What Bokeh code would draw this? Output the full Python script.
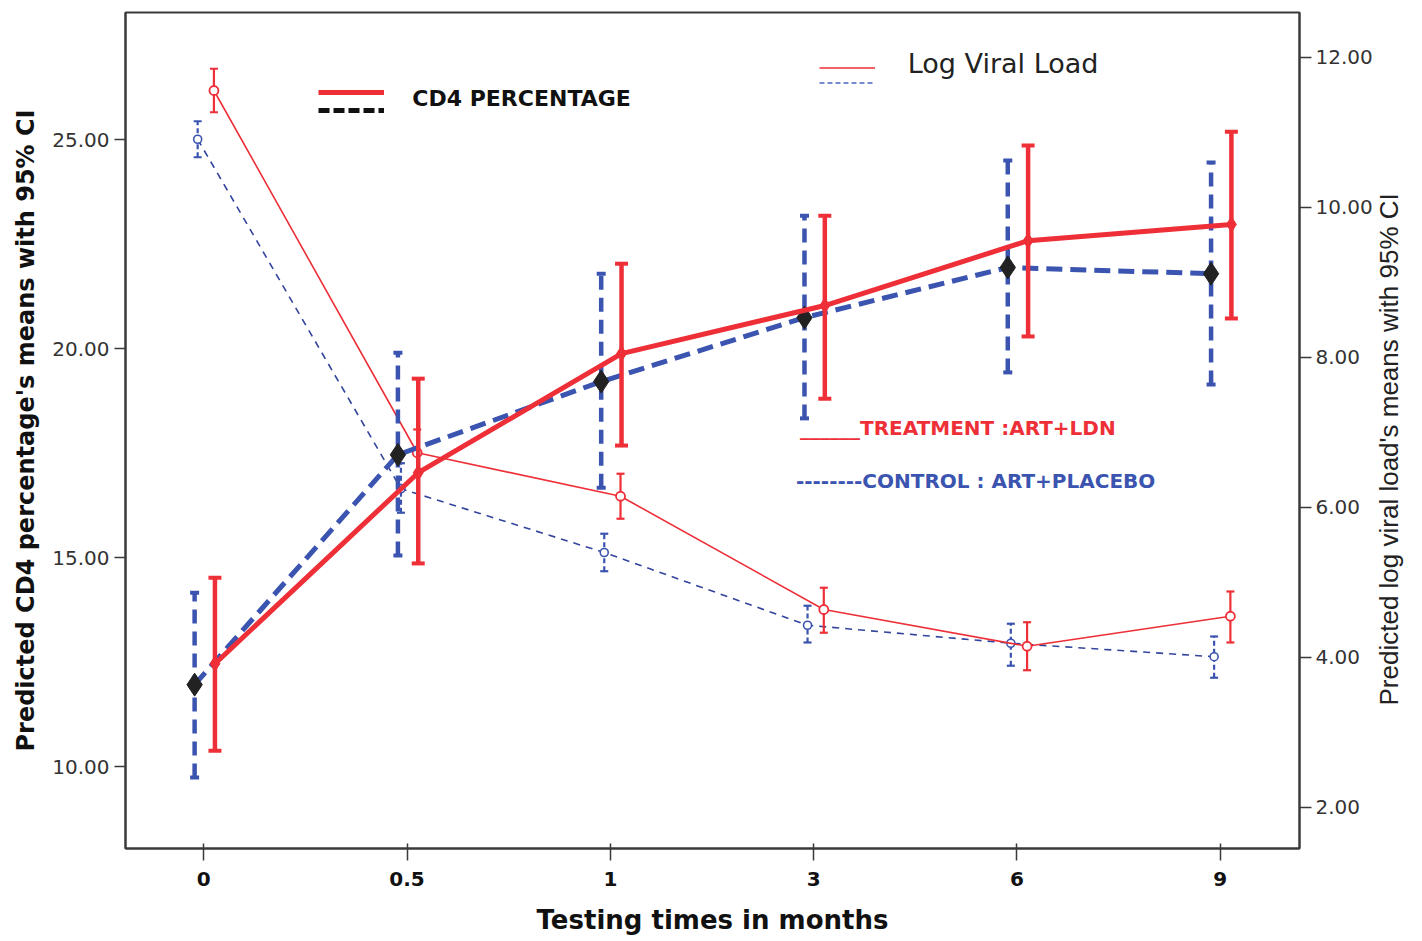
import math
import numpy as np
from bokeh.plotting import figure
from bokeh.models import (LinearAxis, Range1d, FixedTicker, NumeralTickFormatter,
                          Legend, LegendItem, Label)
from bokeh.embed import file_html
from bokeh.resources import INLINE

# ---------------- data ----------------
categories = ["0", "0.5", "1", "3", "6", "9"]

cd4_ctrl = [11.96, 17.46, 19.21, 20.74, 21.94, 21.79]
cd4_ctrl_lo = [9.74, 15.05, 16.67, 18.33, 19.43, 19.14]
cd4_ctrl_hi = [14.16, 19.90, 21.79, 23.18, 24.50, 24.45]

cd4_trt = [12.46, 17.03, 19.88, 21.03, 22.58, 22.97]
cd4_trt_lo = [10.38, 14.86, 17.68, 18.80, 20.29, 20.72]
cd4_trt_hi = [14.52, 19.28, 22.03, 23.18, 24.86, 25.19]

vl_trt = [11.56, 6.73, 6.15, 4.64, 4.15, 4.55]
vl_trt_lo = [11.27, 6.42, 5.85, 4.33, 3.83, 4.20]
vl_trt_hi = [11.85, 7.04, 6.45, 4.93, 4.47, 4.88]

vl_ctrl = [10.91, 6.25, 5.40, 4.43, 4.19, 4.01]
vl_ctrl_lo = [10.67, 5.93, 5.15, 4.20, 3.89, 3.73]
vl_ctrl_hi = [11.15, 6.59, 5.65, 4.69, 4.45, 4.28]

cd4_ticks = [10, 15, 20, 25]
vl_ticks = [2, 4, 6, 8, 10, 12]

RED = "#ee2f38"
BLUE = "#3a54b0"
NAVY = "#33449c"
AX = "#3a3a3a"

idx = np.arange(len(categories))

p = figure(width=1422, height=941, output_backend="svg", toolbar_location=None,
           x_range=Range1d(-0.385, 5.39), y_range=Range1d(8.04, 28.04),
           min_border_left=125, min_border_right=122, min_border_top=12,
           min_border_bottom=93)
p.extra_y_ranges = {"vl": Range1d(1.453, 12.6)}
p.xgrid.visible = False
p.ygrid.visible = False
p.outline_line_color = AX
p.outline_line_width = 2
p.background_fill_color = "white"
p.border_fill_color = "white"

# ---------------- log viral load (right axis) ----------------
xb = idx - 0.03
xr = idx + 0.05

vl_ctrl_line = p.line(xb, vl_ctrl, y_range_name="vl", line_color=NAVY,
                      line_width=1.6, line_dash="7 6")
p.segment(xb, vl_ctrl_lo, xb, vl_ctrl_hi, y_range_name="vl", line_color=BLUE,
          line_width=2.2, line_dash="5 3")
p.scatter(np.concatenate([xb, xb]), vl_ctrl_lo + vl_ctrl_hi, y_range_name="vl",
          marker="dash", size=8, line_color=BLUE, line_width=2.2)
p.scatter(xb, vl_ctrl, y_range_name="vl", marker="circle", size=8,
          fill_color="white", line_color=BLUE, line_width=1.6)

vl_trt_line = p.line(xr, vl_trt, y_range_name="vl", line_color=RED,
                     line_width=1.6)
p.segment(xr, vl_trt_lo, xr, vl_trt_hi, y_range_name="vl", line_color=RED,
          line_width=2.2)
p.scatter(np.concatenate([xr, xr]), vl_trt_lo + vl_trt_hi, y_range_name="vl",
          marker="dash", size=8, line_color=RED, line_width=2.2)
p.scatter(xr, vl_trt, y_range_name="vl", marker="circle", size=9,
          fill_color="white", line_color=RED, line_width=1.8)

# ---------------- CD4 percentage (left axis) ----------------
xcb = idx - 0.045
xcr = idx + 0.055

cd4_ctrl_line = p.line(xcb, cd4_ctrl, line_color=BLUE, line_width=5,
                       line_dash="16 8")
p.segment(xcb, cd4_ctrl_lo, xcb, cd4_ctrl_hi, line_color=BLUE, line_width=4.5,
          line_dash="14 8")
p.scatter(np.concatenate([xcb, xcb]), cd4_ctrl_lo + cd4_ctrl_hi,
          marker="dash", size=9, line_color=BLUE, line_width=4)
p.scatter(xcb, cd4_ctrl, marker="diamond", size=23, fill_color="#222222",
          line_color="#222222", line_width=1)

cd4_trt_line = p.line(xcr, cd4_trt, line_color=RED, line_width=5)
p.segment(xcr, cd4_trt_lo, xcr, cd4_trt_hi, line_color=RED, line_width=4.5)
p.scatter(np.concatenate([xcr, xcr]), cd4_trt_lo + cd4_trt_hi,
          marker="dash", size=13, line_color=RED, line_width=4)
p.scatter(xcr, cd4_trt, marker="diamond", size=15, fill_color=RED,
          line_color=RED, line_width=1)

# one-point (invisible) renderers used only as legend samples
black_dash = p.line(x=[xcb[0]], y=[cd4_ctrl[0]], line_color="#111111",
                    line_width=5, line_dash="11 4")
blue_dash_small = p.line(x=[xb[0]], y=[vl_ctrl[0]], y_range_name="vl",
                         line_color="#4a66c0", line_width=1.6,
                         line_dash="5 3")

# ---------------- axes ----------------
xa = p.xaxis[0]
xa.ticker = FixedTicker(ticks=list(idx))
xa.major_label_overrides = {int(i): c for i, c in zip(idx, categories)}
xa.minor_tick_line_color = None
xa.major_tick_in = 5
xa.major_tick_out = 12
xa.major_tick_line_color = AX
xa.major_tick_line_width = 1.5
xa.axis_line_color = AX
xa.axis_line_width = 2
xa.major_label_standoff = 11
xa.major_label_text_font = "DejaVu Sans"
xa.major_label_text_font_style = "bold"
xa.major_label_text_font_size = "20px"
xa.major_label_text_color = "#111111"
xa.axis_label = "Testing times in months"
xa.axis_label_text_font = "DejaVu Sans"
xa.axis_label_text_font_style = "bold"
xa.axis_label_text_font_size = "26px"
xa.axis_label_text_color = "#111111"
xa.axis_label_standoff = 16

ya = p.yaxis[0]
ya.ticker = FixedTicker(ticks=cd4_ticks)
ya.formatter = NumeralTickFormatter(format="0.00")
ya.minor_tick_line_color = None
ya.major_tick_in = 0
ya.major_tick_out = 11
ya.major_tick_line_color = AX
ya.major_tick_line_width = 1.5
ya.axis_line_color = AX
ya.axis_line_width = 2
ya.major_label_standoff = 5
ya.major_label_text_font = "DejaVu Sans"
ya.major_label_text_font_size = "20px"
ya.major_label_text_color = "#333333"
ya.axis_label = "Predicted CD4 percentage's means with 95% CI"
ya.axis_label_text_font = "DejaVu Sans"
ya.axis_label_text_font_style = "bold"
ya.axis_label_text_font_size = "24px"
ya.axis_label_text_color = "#111111"
ya.axis_label_standoff = 9

ra = LinearAxis(y_range_name="vl", ticker=FixedTicker(ticks=vl_ticks),
                formatter=NumeralTickFormatter(format="0.00"))
ra.minor_tick_line_color = None
ra.major_tick_in = 0
ra.major_tick_out = 12
ra.major_tick_line_color = AX
ra.major_tick_line_width = 1.5
ra.axis_line_color = AX
ra.axis_line_width = 2
ra.major_label_standoff = 4
ra.major_label_text_font = "DejaVu Sans"
ra.major_label_text_font_size = "20px"
ra.major_label_text_color = "#333333"
p.add_layout(ra, "right")

# right axis title, reading bottom-to-top as in the reference: drawn as the
# single rotated label of a bare, line-less outer axis (not clipped by the frame)
vl_title = "Predicted log viral load's means with 95% CI"
vl_title_start = 3.36
ta = LinearAxis(y_range_name="vl", ticker=FixedTicker(ticks=[vl_title_start]))
ta.major_label_overrides = {vl_title_start: vl_title}
ta.major_label_orientation = math.pi / 2
ta.axis_line_color = None
ta.major_tick_line_color = None
ta.minor_tick_line_color = None
ta.major_tick_in = 0
ta.major_tick_out = 0
ta.major_label_standoff = 14
ta.major_label_text_font = "Liberation Sans"
ta.major_label_text_font_size = "26px"
ta.major_label_text_color = "#222222"
p.add_layout(ta, "right")

# ---------------- legends ----------------
leg1 = Legend(items=[LegendItem(label=" ", renderers=[cd4_trt_line]),
                     LegendItem(label="  ", renderers=[black_dash])],
              location=(193, 731), glyph_width=66, glyph_height=14,
              label_height=14, spacing=4, padding=0, margin=0,
              label_standoff=0, label_text_font_size="1px",
              border_line_alpha=0, background_fill_alpha=0)
leg2 = Legend(items=[LegendItem(label=" ", renderers=[vl_trt_line]),
                     LegendItem(label="  ", renderers=[blue_dash_small])],
              location=(694, 760), glyph_width=56, glyph_height=11,
              label_height=11, spacing=4, padding=0, margin=0,
              label_standoff=0, label_text_font_size="1px",
              border_line_alpha=0, background_fill_alpha=0)
p.add_layout(leg1)
p.add_layout(leg2)

p.add_layout(Label(x=1.026, y=25.98, text="CD4 PERCENTAGE",
                   text_font="DejaVu Sans", text_font_style="bold",
                   text_font_size="22px", text_color="#111111",
                   text_baseline="middle", text_align="left"))
p.add_layout(Label(x=3.463, y=26.82, text="Log Viral Load",
                   text_font="DejaVu Sans", text_font_size="27px",
                   text_color="#222222", text_baseline="middle",
                   text_align="left"))
p.add_layout(Label(x=2.933, y=18.11, text="______TREATMENT :ART+LDN",
                   text_font="DejaVu Sans", text_font_style="bold",
                   text_font_size="20px", text_color=RED,
                   text_baseline="middle", text_align="left"))
p.add_layout(Label(x=2.913, y=16.84, text="--------CONTROL : ART+PLACEBO",
                   text_font="DejaVu Sans", text_font_style="bold",
                   text_font_size="20px", text_color=BLUE,
                   text_baseline="middle", text_align="left"))

open("out.html", "w").write(file_html(p, INLINE))
